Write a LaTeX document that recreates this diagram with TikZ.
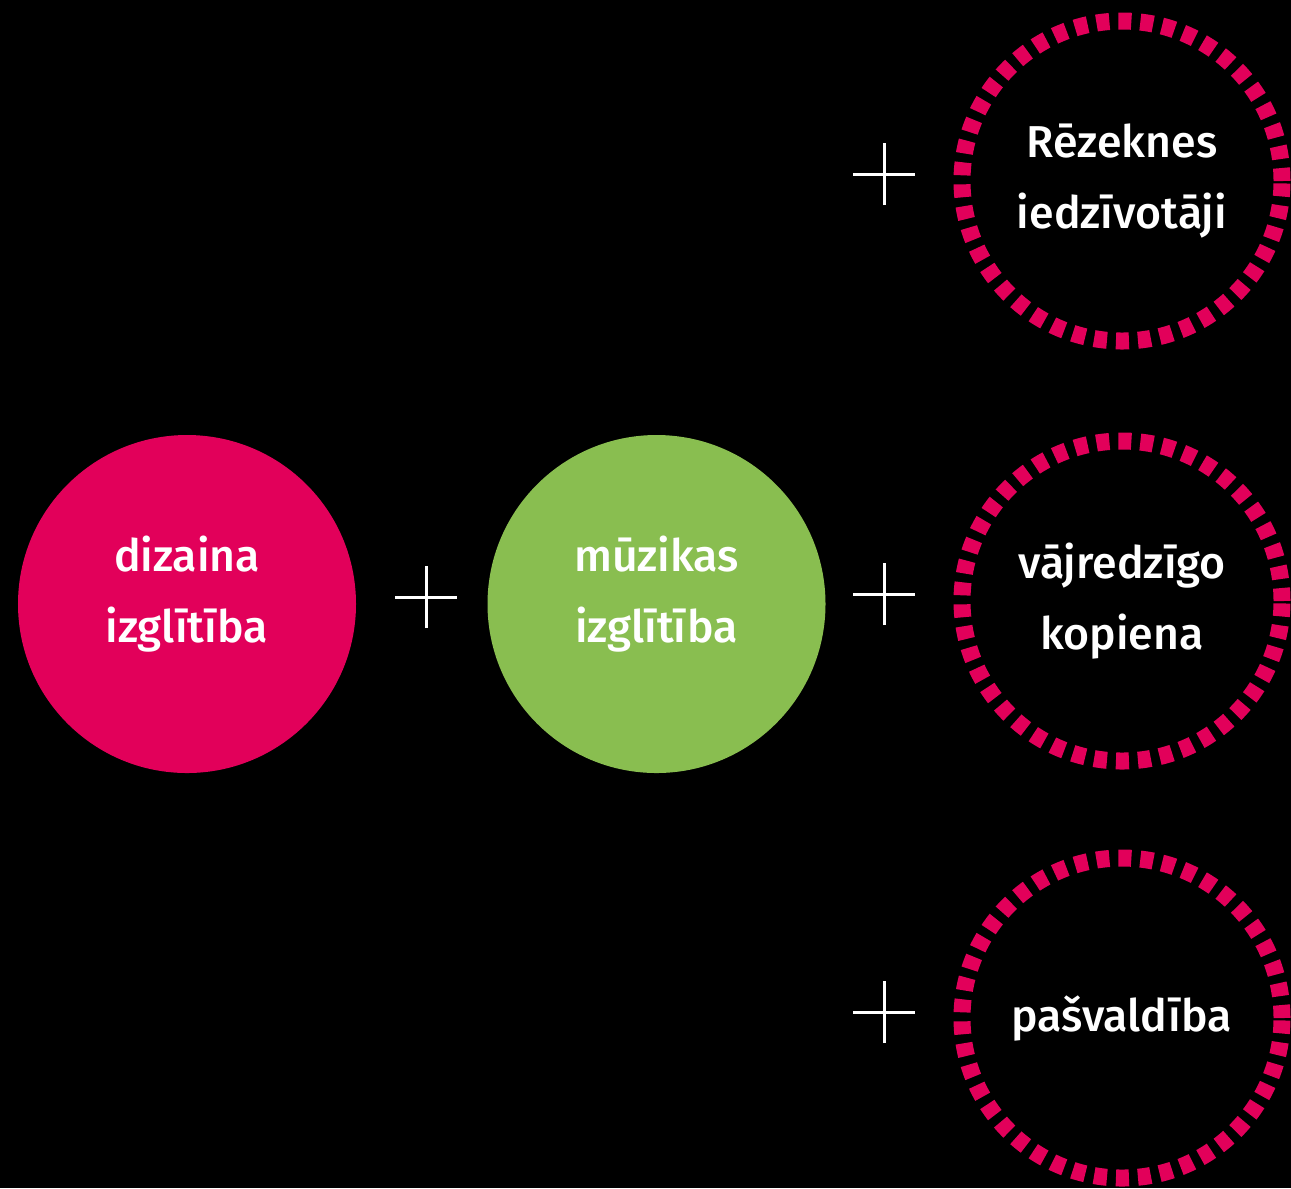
\documentclass[tikz,border=0pt]{standalone}
\usepackage{fontspec}
\setmainfont{Fira Sans}[BoldFont={Fira Sans Medium}]
\definecolor{rozs}{RGB}{226,0,90}
\definecolor{zals}{RGB}{137,190,80}

\begin{document}
\begin{tikzpicture}
\tikzstyle{fullcircle}=[circle, minimum size=3.38cm, inner sep=0pt]
\tikzstyle{circletext}=[text=white, align=center, font=\fontsize{12.7}{20}\selectfont\bfseries]
\tikzstyle{dashcircle}=[circle, draw=rozs, line width=0.17cm, dash pattern=on 0.13cm off 0.09cm, minimum size=3.2cm, inner sep=0pt, circletext]

\fill[black] (0,0) rectangle (12.91,-11.88);
\useasboundingbox (0,0) rectangle (12.91,-11.88);

\node[fullcircle, fill=rozs] (dizains) at (1.87,-6.04) {};
\node[fullcircle, fill=zals] (muzika) at (6.565,-6.04) {};
\node[circletext] (dizainsT) at ([yshift=0.1cm]dizains.center) {dizaina\\izglītība};
\node[circletext] (muzikaT) at ([yshift=0.1cm]muzika.center) {mūzikas\\izglītība};

\node[dashcircle] (rezekne) at (11.22,-1.81) {Rēzeknes\\iedzīvotāji};
\node[dashcircle] (kopiena) at (11.22,-6.01) {vājredzīgo\\kopiena};
\node[dashcircle] (pasvaldiba) at (11.22,-10.18) {pašvaldība};

% plus zimes
\foreach \x/\y in {4.26/-5.97, 8.84/-1.74, 8.84/-5.94, 8.84/-10.12} {
\draw[white, line width=0.85pt] (\x-0.31,\y) -- (\x+0.31,\y);
\draw[white, line width=0.85pt] (\x,\y-0.31) -- (\x,\y+0.31);
}

\end{tikzpicture}
\end{document}
